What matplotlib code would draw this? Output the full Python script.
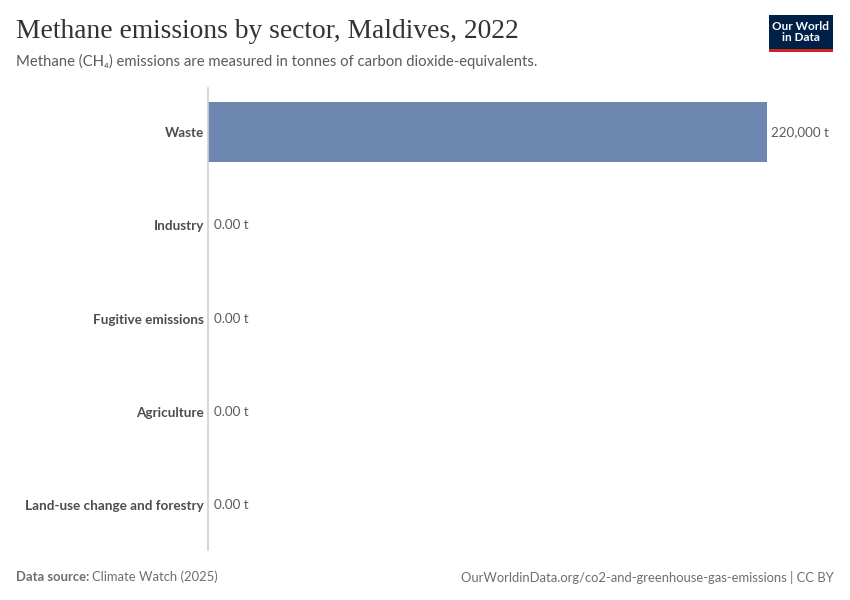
import matplotlib.pyplot as plt
from matplotlib.patches import Rectangle

sectors = ['Waste', 'Industry', 'Fugitive emissions', 'Agriculture', 'Land-use change and forestry']
emissions = [220000, 0, 0, 0, 0]
value_labels = ['220,000 t', '0.00 t', '0.00 t', '0.00 t', '0.00 t']

plt.rcParams['font.family'] = ['Lato', 'DejaVu Sans']

fig = plt.figure(figsize=(8.5, 6), dpi=100)
W, H = 850, 600

ax = fig.add_axes([208 / W, 1 - 550 / H, (767 - 208) / W, (550 - 88) / H])
y = list(range(len(sectors)))
ax.barh(y, emissions, height=0.645, color='#6d87b0', zorder=2)
ax.set_xlim(0, max(emissions))
ax.set_ylim(4.48, -0.47)

for i, (v, lab) in enumerate(zip(emissions, value_labels)):
    ax.annotate(lab, (v, i), xytext=(3 if v > 0 else 4, 0), textcoords='offset points',
                va='center', ha='left', fontsize=9.6, color='#5b5b5b', annotation_clip=False)

ax.set_yticks(y)
ax.set_yticklabels(sectors, fontsize=9.7, fontweight='bold', color='#4d4d4d')
ax.tick_params(axis='y', length=0, pad=3)
ax.set_xticks([])
for s in ['top', 'right', 'bottom']:
    ax.spines[s].set_visible(False)
ax.spines['left'].set_color('#d0d0d0')
ax.spines['left'].set_linewidth(1.2)

# header
fig.text(16 / W, 1 - 32 / H, 'Methane emissions by sector, Maldives, 2022',
         family=['Liberation Serif', 'DejaVu Serif'], fontsize=19.8, color='#333333', va='center')
fig.text(16 / W, 1 - 61 / H, 'Methane (CH\u2084) emissions are measured in tonnes of carbon dioxide-equivalents.',
         fontsize=10.7, color='#5b5b5b', va='center')

# logo
fig.patches.append(Rectangle((769 / W, 1 - 52 / H), 64 / W, 37 / H, transform=fig.transFigure,
                             facecolor='#002147', edgecolor='none'))
fig.patches.append(Rectangle((769 / W, 1 - 52 / H), 64 / W, 3 / H, transform=fig.transFigure,
                             facecolor='#ce261e', edgecolor='none'))
fig.text(801 / W, 1 - 32 / H, 'Our World\nin Data', ha='center', va='center', fontsize=8.5,
         fontweight='bold', color='white', linespacing=1.0)

# footer
t = fig.text(16 / W, 1 - 577 / H, 'Data source:', fontsize=9.4, fontweight='bold', color='#6e6e6e', va='center')
fig.canvas.draw()
bb = t.get_window_extent()
fig.text(bb.x1 / W + 3 / W, 1 - 577 / H, 'Climate Watch (2025)', fontsize=9.4, color='#6e6e6e', va='center')
fig.text(834 / W, 1 - 577 / H, 'OurWorldinData.org/co2-and-greenhouse-gas-emissions | CC BY',
         fontsize=9.4, color='#6e6e6e', va='center', ha='right')

fig.savefig('out.png', dpi=100)
